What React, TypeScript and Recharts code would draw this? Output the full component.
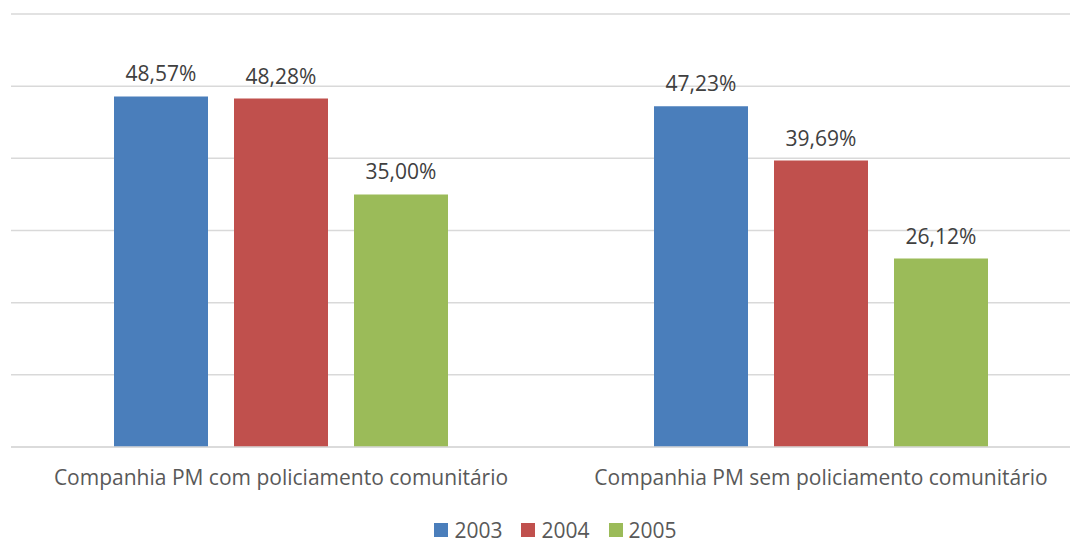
import React from "react";
import { BarChart, Bar, XAxis, YAxis, CartesianGrid, Legend, LabelList } from "recharts";

const categories = [
  "Companhia PM com policiamento comunitário",
  "Companhia PM sem policiamento comunitário",
];
const series2003 = [48.57, 47.23];
const series2004 = [48.28, 39.69];
const series2005 = [35.0, 26.12];
const seriesNames = ["2003", "2004", "2005"];
const colors = ["#4A7EBB", "#C0504D", "#9BBB59"];
const yTicks = [0, 10, 20, 30, 40, 50, 60];

const data = categories.map((c, i) => ({
  name: c,
  s2003: series2003[i],
  s2004: series2004[i],
  s2005: series2005[i],
}));

const FONT = "'Open Sans', sans-serif";
const fmt = (v: any) => `${Number(v).toFixed(2).replace(".", ",")}%`;

const LegendContent = () => (
  <div style={{ display: "flex", justifyContent: "center", alignItems: "center", paddingTop: 28, fontFamily: FONT, fontSize: 21, lineHeight: "18px", color: "#595959", paddingLeft: 28 }}>
    {seriesNames.map((n, i) => (
      <div key={n} style={{ display: "flex", alignItems: "center", marginRight: 19 }}>
        <div style={{ width: 14, height: 14, background: colors[i], marginRight: 6 }} />
        <span>{n}</span>
      </div>
    ))}
  </div>
);

export default function App() {
  return (
    <div style={{ position: "absolute", left: 0, top: 0, width: 1070, height: 541, overflow: "hidden", background: "#fff" }}>
      <BarChart
        width={1100}
        height={541}
        data={data}
        margin={{ top: 14, left: 11, right: 9, bottom: 0 }}
        barSize={94}
        barGap={26}
      >
        <CartesianGrid vertical={false} stroke="#d9d9d9" strokeWidth={1.5} />
        <YAxis hide domain={[0, 60]} ticks={yTicks} />
        <XAxis
          dataKey="name"
          axisLine={{ stroke: "#d9d9d9", strokeWidth: 1.5 }}
          tickLine={false}
          height={46}
          tick={{ fill: "#595959", fontSize: 21, fontFamily: FONT }}
          tickMargin={17}
        />
        <Legend verticalAlign="bottom" height={48} content={<LegendContent />} />
        {["s2003", "s2004", "s2005"].map((k, i) => (
          <Bar key={k} dataKey={k} name={seriesNames[i]} fill={colors[i]} isAnimationActive={false}>
            <LabelList dataKey={k} position="top" offset={15} formatter={fmt} style={{ fill: "#404040", fontSize: 21, fontFamily: FONT }} />
          </Bar>
        ))}
      </BarChart>
    </div>
  );
}
